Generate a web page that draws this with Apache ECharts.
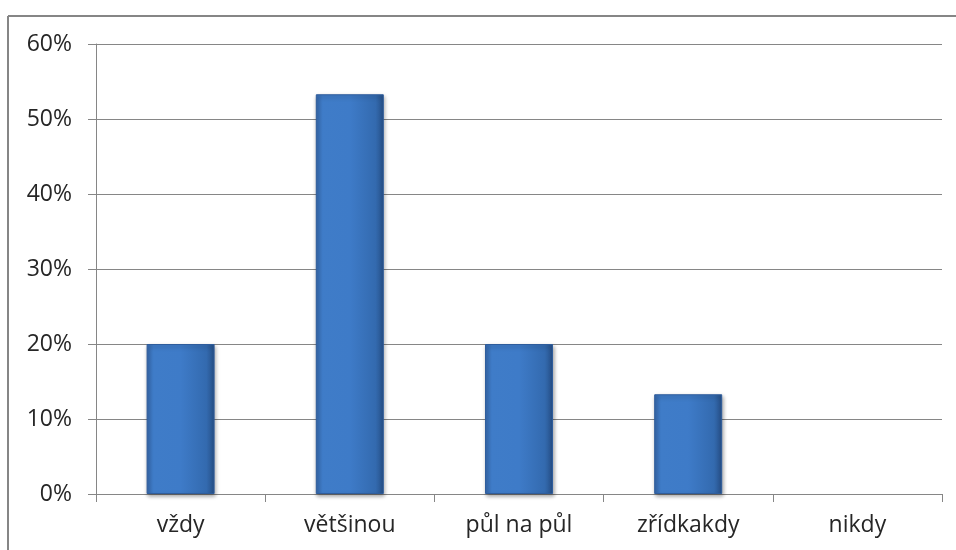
<!DOCTYPE html>
<html>
<head>
<meta charset="utf-8">
<script src="https://cdn.jsdelivr.net/npm/echarts@6/dist/echarts.min.js"></script>
<style>
  html, body { margin: 0; padding: 0; background: #fff; }
  #chart { width: 956px; height: 550px; }
</style>
</head>
<body>
<div id="chart"></div>
<script>
// kategorie a hodnoty (v %)
var categories = ['vždy', 'většinou', 'půl na půl', 'zřídkakdy', 'nikdy'];
var values = [20, 53.3, 20, 13.3, 0];
var yTicks = [0, 10, 20, 30, 40, 50, 60];

var grid = '#868686';
var chart = echarts.init(document.getElementById('chart'), null, { renderer: 'canvas' });

chart.setOption({
  animation: false,
  textStyle: { fontFamily: 'Open Sans, Lato, sans-serif' },
  graphic: [
    { type: 'line', shape: { x1: 8, y1: 16, x2: 956, y2: 16 }, style: { stroke: '#868686', lineWidth: 2 } },
    { type: 'line', shape: { x1: 8, y1: 16, x2: 8, y2: 550 }, style: { stroke: '#868686', lineWidth: 2 } }
  ],
  grid: { left: 96, right: 14, top: 44, bottom: 56 },
  xAxis: {
    type: 'category',
    data: categories,
    axisLine: { lineStyle: { color: grid, width: 1 } },
    axisTick: { show: true, length: 8, alignWithLabel: false, lineStyle: { color: grid } },
    axisLabel: { color: '#262626', fontSize: 23, margin: 20 }
  },
  yAxis: {
    type: 'value',
    min: yTicks[0],
    max: yTicks[yTicks.length - 1],
    interval: 10,
    axisLine: { show: true, lineStyle: { color: grid, width: 1 } },
    axisTick: { show: true, length: 8, lineStyle: { color: grid } },
    axisLabel: { color: '#262626', fontSize: 23, margin: 24, formatter: '{value}%' },
    splitLine: { lineStyle: { color: grid, width: 1 } }
  },
  series: [{
    type: 'bar',
    data: values.map(function(v) {
      return v === 0 ? { value: v, itemStyle: { opacity: 0 } } : v;
    }),
    barWidth: 68,
    itemStyle: {
      color: {
        type: 'linear', x: 0, y: 0, x2: 1, y2: 0,
        colorStops: [
          { offset: 0, color: '#3668ab' },
          { offset: 0.1, color: '#3f7cc8' },
          { offset: 0.5, color: '#3e7bc8' },
          { offset: 0.88, color: '#336aaf' },
          { offset: 1, color: '#264f86' }
        ]
      },
      borderColor: '#2f5d9c',
      borderWidth: 1,
      shadowColor: 'rgba(0,0,0,0.35)',
      shadowBlur: 4,
      shadowOffsetX: 1,
      shadowOffsetY: 2
    }
  }]
});
</script>
</body>
</html>
